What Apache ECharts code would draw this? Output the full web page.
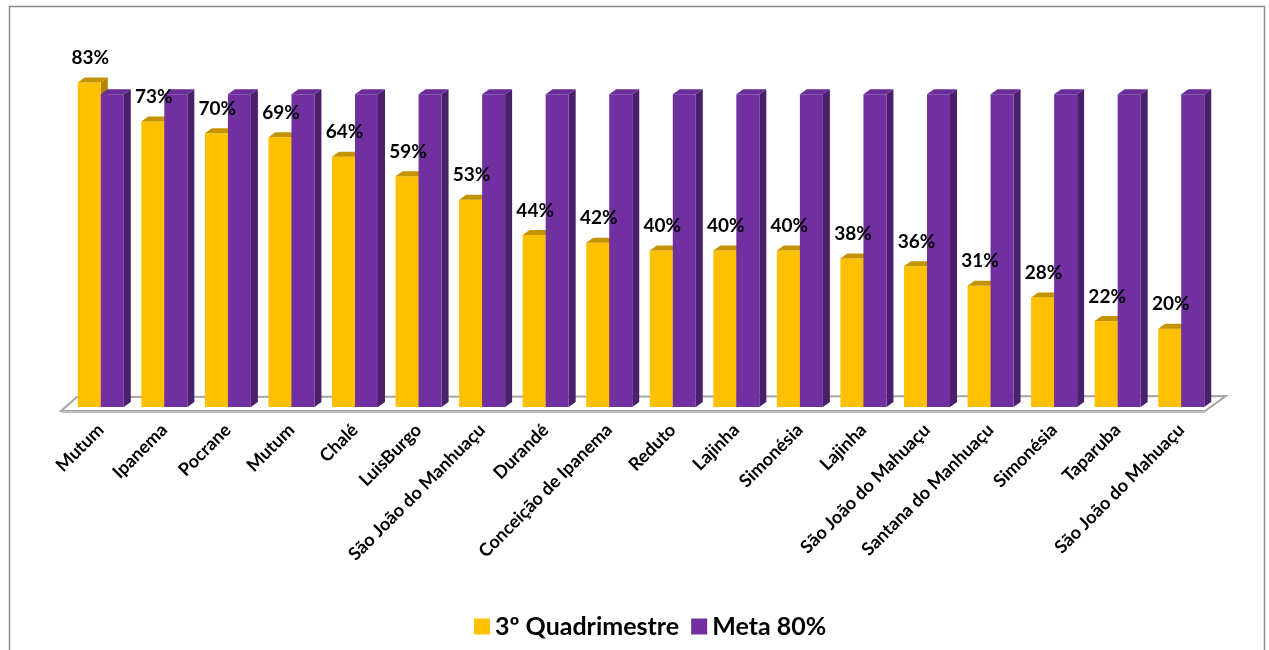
<!DOCTYPE html>
<html>
<head>
<meta charset="utf-8">
<script src="https://cdn.jsdelivr.net/npm/echarts@6/dist/echarts.min.js"></script>
<style>html,body{margin:0;padding:0;background:#fff}#c{width:1269px;height:650px}</style>
</head>
<body>
<div id="c"></div>
<script>
const categories = ['Mutum','Ipanema','Pocrane','Mutum','Chalé','LuisBurgo','São João do Manhuaçu','Durandé','Conceição de Ipanema','Reduto','Lajinha','Simonésia','Lajinha','São João do Mahuaçu','Santana do Manhuaçu','Simonésia','Taparuba','São João do Mahuaçu'];
const quadrimestre = [83,73,70,69,64,59,53,44,42,40,40,40,38,36,31,28,22,20];
const meta = [80,80,80,80,80,80,80,80,80,80,80,80,80,80,80,80,80,80];
const seriesNames = ['3º Quadrimestre','Meta 80%'];

const FONT = 'Lato, "Open Sans", sans-serif';
const DX = 7, DY = 5;

function bar3d(front, top, side, left) {
  return function (params, api) {
    const p = api.coord([api.value(0), api.value(1)]);
    const b = api.coord([api.value(0), 0]);
    const band = api.size([1, 0])[0];
    const w = band * 0.362;
    const x0 = left ? p[0] - w : p[0];
    const x1 = x0 + w;
    const yt = p[1], yb = b[1];
    return {
      type: 'group',
      children: [
        { type: 'polygon', shape: { points: [[x1, yt], [x1 + DX, yt - DY], [x1 + DX, yb - DY], [x1, yb]] }, style: { fill: side } },
        { type: 'rect', shape: { x: x0, y: yt, width: w, height: yb - yt }, style: { fill: front } },
        { type: 'polygon', shape: { points: [[x0, yt], [x1, yt], [x1 + DX, yt - DY], [x0 + DX, yt - DY]] }, style: { fill: top } }
      ]
    };
  };
}

const chart = echarts.init(document.getElementById('c'));
chart.setOption({
  backgroundColor: '#fff',
  animation: false,
  graphic: [{
    type: 'rect', left: 7, top: 4, shape: { x: 0, y: 0, width: 1255, height: 700 },
    style: { fill: 'none', stroke: '#8c8c8c', lineWidth: 1.5 }, silent: true
  }],
  grid: { left: 69, right: 56, top: 16, bottom: 243 },
  legend: {
    data: seriesNames, top: 609, left: 469, icon: 'rect', itemWidth: 16, itemHeight: 16, itemGap: 12,
    textStyle: { fontFamily: FONT, fontWeight: 'bold', fontSize: 25, color: '#000' }
  },
  xAxis: {
    type: 'category', data: categories,
    axisLine: { show: false }, axisTick: { show: false },
    axisLabel: { interval: 0, rotate: 45, margin: 20, fontFamily: FONT, fontWeight: 'bold', fontSize: 18, color: '#000' }
  },
  yAxis: { type: 'value', min: 0, max: 100, show: false, splitLine: { show: false } },
  series: [
    {
      type: 'custom', name: 'floor', z: 1, data: [[0, 0]], encode: { x: 0, y: 1 }, silent: true,
      renderItem: function (params, api) {
        const cs = params.coordSys;
        const yb = cs.y + cs.height;
        const L = cs.x, R = cs.x + cs.width;
        return {
          type: 'group', children: [
            { type: 'polygon', shape: { points: [[L - 8, yb + 4], [R - 8, yb + 4], [R + 13, yb - 11], [L + 8, yb - 10]] },
              style: { fill: '#ffffff', stroke: '#a6a6a6', lineWidth: 2 } },
            { type: 'rect', shape: { x: L - 8, y: yb + 4, width: R - L, height: 2 }, style: { fill: '#bdbdbd' } }
          ]
        };
      }
    },
    {
      type: 'custom', name: seriesNames[0], z: 2, itemStyle: { color: '#FFC000' },
      data: quadrimestre.map((v, i) => [i, v]), encode: { x: 0, y: 1 },
      renderItem: bar3d('#FFC000', '#C49300', '#B38600', true)
    },
    {
      type: 'custom', name: seriesNames[1], z: 3, itemStyle: { color: '#7030A0' },
      data: meta.map((v, i) => [i, v]), encode: { x: 0, y: 1 },
      renderItem: bar3d('#7030A0', '#6A2C99', '#4A1F6B', false)
    },
    {
      type: 'custom', name: 'labels', z: 4, silent: true,
      data: quadrimestre.map((v, i) => [i, v]), encode: { x: 0, y: 1 },
      renderItem: function (params, api) {
        const p = api.coord([api.value(0), api.value(1)]);
        const band = api.size([1, 0])[0];
        const w = band * 0.362;
        return {
          type: 'text',
          style: {
            text: api.value(1) + '%', x: p[0] - w / 2 + 1, y: p[1] - DY - 10,
            align: 'center', verticalAlign: 'bottom',
            font: 'bold 19px ' + FONT, fill: '#000'
          }
        };
      }
    }
  ]
});
</script>
</body>
</html>
